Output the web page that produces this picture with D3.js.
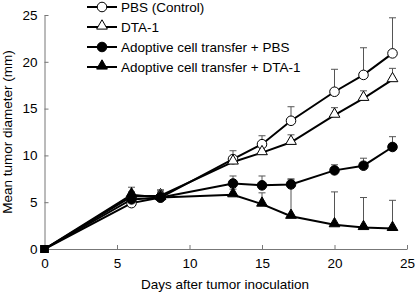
<!DOCTYPE html>
<html>
<head>
<meta charset="utf-8">
<script src="https://cdn.jsdelivr.net/npm/d3@7"></script>
<style>
  body { margin: 0; background: #fff; }
  text { font-family: "Liberation Sans", Arial, sans-serif; }
</style>
</head>
<body>
<script>
var width = 415;
var height = 295;

// data
var days = [0, 6, 8, 13, 15, 17, 20, 22, 24];
var seriesNames = ["PBS (Control)", "DTA-1", "Adoptive cell transfer + PBS", "Adoptive cell transfer + DTA-1"];
var pbs = [0, 4.9, 5.5, 9.6, 11.2, 13.7, 16.8, 18.6, 20.9];
var pbsErr = [0, 0.6, 0.8, 0.9, 0.9, 1.5, 2.4, 2.9, 3.8];
var dta = [0, 5.6, 5.7, 9.3, 10.3, 11.4, 14.3, 16.1, 18.1];
var dtaErr = [0, 0.5, 0.6, 0.5, 0.6, 0.8, 0.8, 0.8, 1.2];
var act = [0, 5.3, 5.5, 7.0, 6.8, 6.9, 8.4, 8.9, 10.9];
var actErr = [0, 0.5, 0.5, 0.8, 1.0, 0.5, 0.6, 0.8, 1.1];
var actDta = [0, 5.8, 5.5, 5.8, 4.8, 3.5, 2.6, 2.3, 2.2];
var actDtaErr = [0, 0.8, 0.6, 0.6, 1.2, 4.0, 3.5, 3.2, 3.0];
var xTicks = [0, 5, 10, 15, 20, 25];
var yTicks = [0, 5, 10, 15, 20, 25];

var series = [
    { name: seriesNames[0], values: pbs, err: pbsErr, shape: "circle", fill: "#fff" },
    { name: seriesNames[1], values: dta, err: dtaErr, shape: "triangle", fill: "#fff" },
    { name: seriesNames[2], values: act, err: actErr, shape: "circle", fill: "#000" },
    { name: seriesNames[3], values: actDta, err: actDtaErr, shape: "triangle", fill: "#000" }
];

var svg = d3.select("body").append("svg")
    .attr("width", width)
    .attr("height", height);

var xScale = d3.scaleLinear().domain([0, 25]).range([44.5, 407]);
var yScale = d3.scaleLinear().domain([0, 25]).range([249, 15]);

// axes, ticks pointing inward
var xAxis = svg.append("g")
    .attr("transform", "translate(0," + yScale(0) + ")")
    .call(d3.axisBottom(xScale).tickValues(xTicks).tickSizeInner(-4).tickSizeOuter(0).tickPadding(9));
var yAxis = svg.append("g")
    .attr("transform", "translate(" + xScale(0) + ",0)")
    .call(d3.axisLeft(yScale).tickValues(yTicks).tickSizeInner(-4).tickSizeOuter(0).tickPadding(7));
[xAxis, yAxis].forEach(function (a) {
    a.select(".domain").attr("stroke", "#777");
    a.selectAll(".tick line").attr("stroke", "#777");
    a.selectAll(".tick text").attr("fill", "#000").style("font-size", "13.5px");
});

var symTri = d3.symbol().type(d3.symbolTriangle).size(50);
var symCirc = d3.symbol().type(d3.symbolCircle).size(72);

function drawMarker(g, shape, fill) {
    var p = g.append("path")
        .attr("d", shape == "circle" ? symCirc() : symTri())
        .attr("fill", fill)
        .attr("stroke", "#000")
        .attr("stroke-width", 1);
    if (shape == "triangle") p.attr("transform", "translate(0,-1)");
}

var line = d3.line()
    .x(function (d, i) { return xScale(days[i]); })
    .y(function (d) { return yScale(d); });

// error bars first (upward only)
series.forEach(function (s) {
    var eb = svg.append("g").attr("stroke", "#555").attr("stroke-width", 1);
    days.forEach(function (day, i) {
        if (!s.err[i]) return;
        var x = xScale(day);
        var top = yScale(s.values[i] + s.err[i]);
        eb.append("line").attr("x1", x).attr("x2", x)
            .attr("y1", yScale(s.values[i])).attr("y2", top);
        eb.append("line").attr("x1", x - 3.5).attr("x2", x + 3.5)
            .attr("y1", top).attr("y2", top);
    });
});

series.forEach(function (s) {
    svg.append("path")
        .datum(s.values)
        .attr("d", line)
        .attr("fill", "none")
        .attr("stroke", "#000")
        .attr("stroke-width", 2);
});

series.forEach(function (s) {
    s.values.forEach(function (v, i) {
        var g = svg.append("g")
            .attr("transform", "translate(" + xScale(days[i]) + "," + yScale(v) + ")");
        if (days[i] == 0) {
            g.append("rect").attr("x", -4).attr("y", -4).attr("width", 8).attr("height", 8).attr("fill", "#000");
        } else {
            drawMarker(g, s.shape, s.fill);
        }
    });
});

// legend
var legend = svg.append("g");
series.forEach(function (s, i) {
    var y = 7 + i * 20;
    legend.append("line")
        .attr("x1", 87).attr("x2", 117)
        .attr("y1", y).attr("y2", y)
        .attr("stroke", "#000").attr("stroke-width", 2);
    drawMarker(legend.append("g").attr("transform", "translate(102," + y + ")"), s.shape, s.fill);
    legend.append("text")
        .attr("x", 121).attr("y", y + 5)
        .style("font-size", "13.5px")
        .text(s.name);
});

svg.append("text")
    .attr("x", 225).attr("y", 289)
    .attr("text-anchor", "middle")
    .style("font-size", "13.5px")
    .text("Days after tumor inoculation");

svg.append("text")
    .attr("transform", "translate(12,132) rotate(-90)")
    .attr("text-anchor", "middle")
    .style("font-size", "13.5px")
    .text("Mean tumor diameter (mm)");
</script>
</body>
</html>
